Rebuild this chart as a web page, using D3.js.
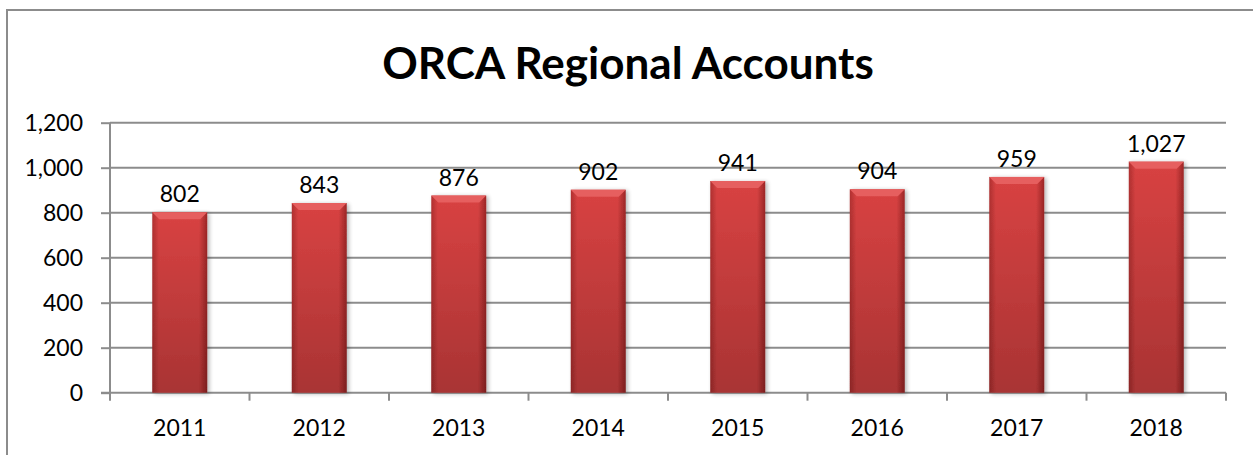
<!DOCTYPE html>
<html>
<head>
<meta charset="utf-8">
<script src="https://cdn.jsdelivr.net/npm/d3@7"></script>
<style>
  html, body { margin: 0; padding: 0; background: #fff; }
  svg { display: block; font-family: Lato, "Open Sans", sans-serif; }
</style>
</head>
<body>
<div id="chart"></div>
<script>
const years  = ["2011", "2012", "2013", "2014", "2015", "2016", "2017", "2018"];
const accounts = [802, 843, 876, 902, 941, 904, 959, 1027];
const yTicks = [0, 200, 400, 600, 800, 1000, 1200];
const title = "ORCA Regional Accounts";

const W = 1253, H = 455;
const plot = { left: 110, right: 1226, top: 122.7, bottom: 392.7 };

const colors = {
  grid:  "#8c8c8c",
  text:  "#000",
  barHi: "#d84242",
  bevel: "#e65e5e",
};

const svg = d3.select("#chart")
  .append("svg")
  .attr("width", W)
  .attr("height", H);

const defs = svg.append("defs");

// horizontal shading: darker edges, lighter middle
const hGrad = defs.append("linearGradient")
  .attr("id", "barH").attr("x1", 0).attr("x2", 1).attr("y1", 0).attr("y2", 0);
hGrad.append("stop").attr("offset", "0%").attr("stop-color", "#b03030");
hGrad.append("stop").attr("offset", "12%").attr("stop-color", colors.barHi);
hGrad.append("stop").attr("offset", "85%").attr("stop-color", colors.barHi);
hGrad.append("stop").attr("offset", "100%").attr("stop-color", "#9c2626");

// vertical darkening towards the base
const vGrad = defs.append("linearGradient")
  .attr("id", "barV").attr("x1", 0).attr("x2", 0).attr("y1", 0).attr("y2", 1);
vGrad.append("stop").attr("offset", "0%").attr("stop-color", "#000").attr("stop-opacity", 0);
vGrad.append("stop").attr("offset", "100%").attr("stop-color", "#000").attr("stop-opacity", 0.22);

const shadow = defs.append("filter").attr("id", "shadow")
  .attr("x", "-20%").attr("y", "-10%").attr("width", "140%").attr("height", "120%");
shadow.append("feGaussianBlur").attr("in", "SourceAlpha").attr("stdDeviation", 2);
shadow.append("feOffset").attr("dx", 2).attr("dy", 1).attr("result", "b");
shadow.append("feComponentTransfer").append("feFuncA").attr("type", "linear").attr("slope", 0.3);
const merge = shadow.append("feMerge");
merge.append("feMergeNode");
merge.append("feMergeNode").attr("in", "SourceGraphic");

// outer chart border (only top + left show in the frame)
svg.append("path")
  .attr("d", `M7,${H} V10 H${W}`)
  .attr("fill", "none")
  .attr("stroke", colors.grid)
  .attr("stroke-width", 2);

const x = d3.scaleBand()
  .domain(years)
  .range([plot.left, plot.right])
  .paddingInner(0.606)
  .paddingOuter(0.303);

const y = d3.scaleLinear()
  .domain([0, 1200])
  .range([plot.bottom, plot.top]);

// ── Gridlines ─────────────────────────────────────────────
svg.append("g")
  .selectAll("line")
  .data(yTicks.filter(d => d > 0))
  .join("line")
  .attr("x1", plot.left).attr("x2", plot.right)
  .attr("y1", d => y(d)).attr("y2", d => y(d))
  .attr("stroke", colors.grid)
  .attr("stroke-width", 2);

// ── Y axis ────────────────────────────────────────────────
const yAxis = svg.append("g")
  .attr("transform", `translate(${plot.left},0)`)
  .call(d3.axisLeft(y).tickValues(yTicks).tickSize(9).tickPadding(18)
    .tickFormat(d3.format(",")));
yAxis.select(".domain").attr("stroke", colors.grid).attr("stroke-width", 2)
  .attr("d", `M0,${plot.top}V${plot.bottom + 7}`);
yAxis.selectAll(".tick line").attr("stroke", colors.grid).attr("stroke-width", 2);
yAxis.selectAll(".tick text")
  .style("font-family", "Lato, sans-serif")
  .style("font-size", "23px")
  .attr("fill", colors.text)
  .attr("dy", "0.36em");

// ── X axis ────────────────────────────────────────────────
// tick marks sit between categories
const boundaries = years.map(d => x(d) - x.step() * x.paddingInner() / 2);
boundaries.push(plot.right);

svg.append("line")
  .attr("x1", plot.left - 9).attr("x2", plot.right)
  .attr("y1", plot.bottom).attr("y2", plot.bottom)
  .attr("stroke", colors.grid).attr("stroke-width", 2);

svg.append("g")
  .selectAll("line")
  .data(boundaries)
  .join("line")
  .attr("x1", d => d).attr("x2", d => d)
  .attr("y1", plot.bottom).attr("y2", plot.bottom + 8)
  .attr("stroke", colors.grid).attr("stroke-width", 2);

svg.append("g")
  .selectAll("text")
  .data(years)
  .join("text")
  .attr("x", d => x(d) + x.bandwidth() / 2)
  .attr("y", 436)
  .attr("text-anchor", "middle")
  .style("font-size", "23px")
  .attr("fill", colors.text)
  .text(d => d);

// ── Bars ──────────────────────────────────────────────────
const bevel = 7;
const barData = years.map((yr, i) => ({ yr, v: accounts[i] }));

const bars = svg.append("g")
  .selectAll("g")
  .data(barData)
  .join("g")
  .attr("filter", "url(#shadow)");

bars.append("rect")
  .attr("x", d => x(d.yr))
  .attr("y", d => y(d.v))
  .attr("width", x.bandwidth())
  .attr("height", d => y(0) - y(d.v))
  .attr("fill", "url(#barH)");

bars.append("rect")
  .attr("x", d => x(d.yr))
  .attr("y", d => y(d.v))
  .attr("width", x.bandwidth())
  .attr("height", d => y(0) - y(d.v))
  .attr("fill", "url(#barV)");

bars.append("path")
  .attr("d", d => {
    const x0 = x(d.yr), x1 = x0 + x.bandwidth(), t = y(d.v);
    return `M${x0},${t}H${x1}L${x1 - bevel},${t + bevel}H${x0 + bevel}Z`;
  })
  .attr("fill", colors.bevel);

// ── Value labels ──────────────────────────────────────────
svg.append("g")
  .selectAll("text")
  .data(barData)
  .join("text")
  .attr("x", d => x(d.yr) + x.bandwidth() / 2)
  .attr("y", d => y(d.v) - 10)
  .attr("text-anchor", "middle")
  .style("font-size", "23px")
  .attr("fill", colors.text)
  .text(d => d3.format(",")(d.v));

// ── Title ─────────────────────────────────────────────────
svg.append("text")
  .attr("x", 628)
  .attr("y", 79)
  .attr("text-anchor", "middle")
  .style("font-size", "44px")
  .style("font-weight", "700")
  .attr("fill", colors.text)
  .text(title);
</script>
</body>
</html>
